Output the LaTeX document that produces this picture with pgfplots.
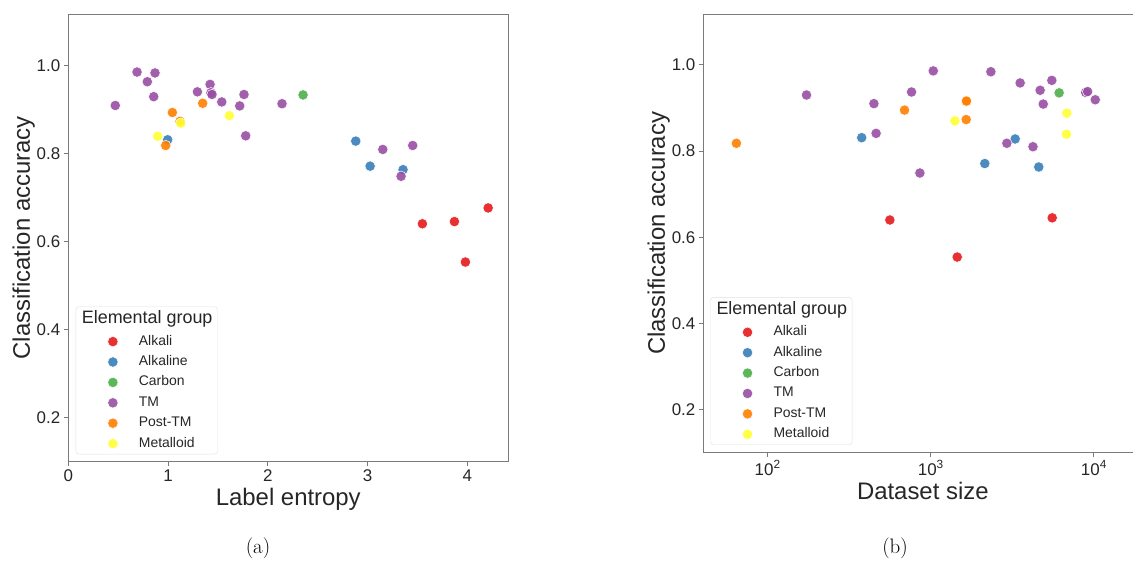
\documentclass[border=0pt]{standalone}
\usepackage{fontspec}
\usepackage{pgfplots}
\pgfplotsset{compat=1.18}
\newfontfamily\arial{Liberation Sans}

% Set1 palette for the elemental groups
\definecolor{cAlkali}{HTML}{E41A1C}
\definecolor{cAlkaline}{HTML}{377EB8}
\definecolor{cCarbon}{HTML}{4DAF4A}
\definecolor{cTM}{HTML}{984EA3}
\definecolor{cPost}{HTML}{FF7F00}
\definecolor{cMetal}{HTML}{FFFF33}
\definecolor{spine}{HTML}{7A7A7A}
\definecolor{txt}{HTML}{262626}

\pgfplotsset{
  dot/.style={only marks, mark=*, mark size=5.2bp,
    mark options={fill=#1, draw=white, line width=0.5bp, fill opacity=0.9}},
  grp/.style={dot=#1, forget plot},
  panel/.style={
    scale only axis, anchor=south west,
    axis line style={spine, line width=0.9bp},
    every tick/.style={spine, line width=0.9bp},
    tick align=outside, major tick length=4.5bp, minor tick length=2.5bp,
    xtick pos=left, ytick pos=left,
    /pgf/number format/assume math mode=true,
    tick label style={font=\arial\fontsize{17}{20}\selectfont, text=txt},
    label style={font=\arial\fontsize{24}{28}\selectfont, text=txt},
    ylabel shift=-5bp,
    ymin=0.1, ymax=1.118,
    ytick={0.2,0.4,0.6,0.8,1.0},
    yticklabel style={/pgf/number format/.cd, fixed, fixed zerofill, precision=1},
    ylabel={Classification accuracy},
    legend cell align=left,
    legend image code/.code={%
      \path[draw=none, fill=none] (0bp,0bp) rectangle (58bp,0bp);
      \path[mark repeat=2, mark phase=2, ##1, draw=none, fill=none, sharp corners]
        plot coordinates {(0bp,0bp) (32bp,0bp) (58bp,0bp)};},
    legend style={anchor=south west, draw=black!12, rounded corners=3bp,
      fill=white, inner xsep=5bp, inner ysep=4bp,
      font=\arial\fontsize{14}{16}\selectfont, text=txt,
      nodes={inner sep=0pt, text height=10bp, text depth=3bp},
      row sep=7.4bp, column sep=0bp},
  },
}

\newcommand{\grouplegend}{%
  \addlegendimage{empty legend}
  \addlegendentry[text height=13bp, text depth=4bp, font=\arial\fontsize{18}{20}\selectfont]{\hspace*{-57bp}Elemental group}
  \addlegendimage{dot=cAlkali}\addlegendentry{Alkali}
  \addlegendimage{dot=cAlkaline}\addlegendentry{Alkaline}
  \addlegendimage{dot=cCarbon}\addlegendentry{Carbon}
  \addlegendimage{dot=cTM}\addlegendentry{TM}
  \addlegendimage{dot=cPost}\addlegendentry{Post-TM}
  \addlegendimage{dot=cMetal}\addlegendentry{Metalloid}
}

\begin{document}
\begin{tikzpicture}
\path[use as bounding box, clip] (0bp,0bp) rectangle (1133bp,565bp);

% (a) accuracy against label entropy
\begin{axis}[panel, at={(68.3bp,103.3bp)}, width=440bp, height=447.7bp,
  xmin=0, xmax=4.41, xtick={0,1,2,3,4},
  xlabel={Label entropy},
  legend style={at={(0.0168,0.0165)}}]
\grouplegend
\addplot[grp=cAlkali] coordinates {(3.549,0.641) (3.870,0.646) (4.208,0.677) (3.980,0.554)};
\addplot[grp=cMetal] coordinates {(0.896,0.840)};
\addplot[grp=cAlkaline] coordinates {(0.996,0.832) (2.881,0.829) (3.025,0.772) (3.355,0.764)};
\addplot[grp=cCarbon] coordinates {(2.353,0.934)};
\addplot[grp=cTM] coordinates {(0.471,0.910) (0.689,0.986) (0.792,0.964) (0.869,0.984)
  (0.856,0.930) (1.294,0.941) (1.421,0.958) (1.430,0.939) (1.440,0.935) (1.538,0.918)
  (1.718,0.909) (1.761,0.935) (1.778,0.841) (2.142,0.914) (3.152,0.810) (3.452,0.819)
  (3.335,0.749)};
\addplot[grp=cPost] coordinates {(1.043,0.894) (1.347,0.915) (0.976,0.819) (1.120,0.874)};
\addplot[grp=cMetal] coordinates {(1.127,0.870) (1.614,0.887)};
\end{axis}

% (b) accuracy against dataset size
\begin{axis}[panel, at={(703.3bp,112.3bp)}, width=439bp, height=438.7bp,
  xmode=log, log basis x=10, xmin=40.3, xmax=19800,
  xtick={100,1000,10000},
  xticklabels={10\textsuperscript{2}, 10\textsuperscript{3}, 10\textsuperscript{4}},
  xlabel={Dataset size},
  legend style={at={(0.016,0.0176)}}]
\grouplegend
\addplot[grp=cAlkali] coordinates {(561,0.640) (1452,0.554) (5550,0.645)};
\addplot[grp=cAlkaline] coordinates {(377,0.831) (3290,0.828) (2143,0.771) (4590,0.763)};
\addplot[grp=cCarbon] coordinates {(6120,0.935)};
\addplot[grp=cTM] coordinates {(173,0.930) (448,0.910) (462,0.841) (762,0.937) (1035,0.986)
  (857,0.749) (2335,0.984) (3530,0.958) (4680,0.941) (5520,0.964) (4890,0.909)
  (2925,0.818) (4230,0.810) (8900,0.936) (9150,0.938) (10190,0.919)};
\addplot[grp=cPost] coordinates {(64.3,0.818) (690,0.895) (1648,0.915) (1655,0.916) (1648,0.873)};
\addplot[grp=cMetal] coordinates {(1406,0.870) (6820,0.888) (6790,0.839)};
\end{axis}

\node[font=\fontsize{21}{24}\selectfont] at (258bp,17bp) {(a)};
\node[font=\fontsize{21}{24}\selectfont] at (895bp,17bp) {(b)};
\end{tikzpicture}
\end{document}
